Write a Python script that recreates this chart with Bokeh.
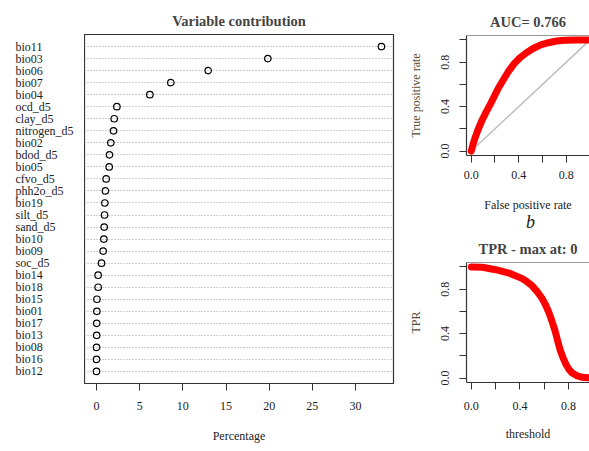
from bokeh.plotting import figure
from bokeh.models import (ColumnDataSource, Range1d, FixedTicker, Span,
                          PrintfTickFormatter)
from bokeh.layouts import row, column
from bokeh.embed import file_html
from bokeh.resources import INLINE

# ---------------- data ----------------
variables = ["bio11", "bio03", "bio06", "bio07", "bio04", "ocd_d5", "clay_d5",
             "nitrogen_d5", "bio02", "bdod_d5", "bio05", "cfvo_d5", "phh2o_d5",
             "bio19", "silt_d5", "sand_d5", "bio10", "bio09", "soc_d5", "bio14",
             "bio18", "bio15", "bio01", "bio17", "bio13", "bio08", "bio16", "bio12"]
contribution = [33.0, 19.85, 12.94, 8.61, 6.18, 2.36, 2.05, 1.97, 1.66, 1.51,
                1.47, 1.12, 1.04, 0.97, 0.93, 0.89, 0.85, 0.77, 0.58, 0.19,
                0.19, 0.05, 0.04, 0.03, 0.02, 0.01, 0.01, 0.0]
pct_ticks = [0, 5, 10, 15, 20, 25, 30]

roc_fpr = [0.0, 0.015, 0.034, 0.06, 0.09, 0.125, 0.16, 0.23, 0.315, 0.36, 0.41,
           0.465, 0.525, 0.585, 0.65, 0.72, 0.79, 0.9, 1.0]
roc_tpr = [0.0, 0.06, 0.125, 0.2, 0.275, 0.35, 0.42, 0.57, 0.72, 0.785, 0.84,
           0.885, 0.925, 0.955, 0.975, 0.99, 0.997, 1.0, 1.0]
diag_x = [0.0, 1.0]
diag_y = [0.0, 1.0]

thr = [0.0, 0.09, 0.2, 0.31, 0.42, 0.46, 0.50, 0.54, 0.58, 0.61, 0.64, 0.665,
       0.69, 0.71, 0.73, 0.755, 0.78, 0.805, 0.83, 0.865, 0.90, 0.95, 1.0]
thr_tpr = [1.0, 0.997, 0.975, 0.945, 0.895, 0.865, 0.83, 0.78, 0.72, 0.66,
           0.585, 0.505, 0.42, 0.335, 0.255, 0.18, 0.12, 0.075, 0.045, 0.022,
           0.01, 0.003, 0.0]

unit_major = [0.0, 0.4, 0.8]
unit_minor = [0.2, 0.6, 1.0]
panel_letters = ["a", "b", "c"]

SERIF = "Liberation Serif"
AXLAB_COLOR = "#5b4b2e"
FRAME = "#333333"
TXT = "#222222"


def letter_strip(text, width, height, x0, cx, baseline_from_bottom):
    """A thin borderless strip that carries a panel letter (a / b / c).
    In a column Bokeh aligns its frame with the panel above, so its
    x range starts at that panel's left border (x0)."""
    s = figure(width=width, height=height, title=None,
               x_range=Range1d(x0, width), y_range=Range1d(0, height),
               output_backend="svg", toolbar_location=None,
               x_axis_location=None, y_axis_location=None,
               min_border_left=0, min_border_right=0,
               min_border_top=0, min_border_bottom=0)
    s.grid.visible = False
    s.outline_line_color = None
    g = s.text(x=[cx], y=[baseline_from_bottom], text=[text],
               text_font_size="18px", text_font_style="italic",
               text_align="center", text_baseline="alphabetic",
               text_color=TXT)
    g.glyph.text_font = SERIF
    return s


# ---------------- panel a ----------------
n = len(variables)
ypos = [n - i for i in range(n)]
src = ColumnDataSource(dict(name=variables, value=contribution, y=ypos))
yr = Range1d(0, n + 1)

# row labels (left-aligned, as in R's dotchart)
lab = figure(width=84, height=451, x_range=Range1d(0, 84), y_range=yr,
             output_backend="svg", toolbar_location=None,
             min_border_left=0, min_border_right=0,
             min_border_top=34, min_border_bottom=68)
lab.axis.visible = False
lab.grid.visible = False
lab.outline_line_color = None
t = lab.text(x=15, y="y", text="name", source=src,
             text_font_size="12px", text_baseline="middle", text_align="left",
             text_color=TXT)
t.glyph.text_font = SERIF

p1 = figure(width=316, height=445, x_range=Range1d(-1.39, 34.4),
            y_range=yr, output_backend="svg",
            toolbar_location=None, min_border_left=0, min_border_right=7,
            min_border_top=34, min_border_bottom=62,
            title="Variable contribution")
p1.title.align = "center"
p1.title.vertical_align = "middle"
p1.title.text_font = SERIF
p1.title.text_font_size = "14.5px"
p1.title.text_font_style = "bold"
p1.outline_line_color = FRAME
p1.outline_line_width = 1.2
p1.yaxis.visible = False
p1.xgrid.visible = False
p1.ygrid.ticker = FixedTicker(ticks=ypos)
p1.ygrid.grid_line_color = "#a0a0a0"
p1.ygrid.grid_line_dash = "1 2"
p1.ygrid.grid_line_width = 1

xa = p1.xaxis[0]
xa.ticker = FixedTicker(ticks=pct_ticks)
xa.minor_tick_line_color = None
xa.major_tick_in = 0
xa.major_tick_out = 7
xa.major_tick_line_color = FRAME
xa.axis_line_color = FRAME
xa.major_label_text_font = SERIF
xa.major_label_text_font_size = "12px"
xa.major_label_text_color = TXT
xa.major_label_standoff = 11
xa.axis_label = "Percentage"
xa.axis_label_text_font = SERIF
xa.axis_label_text_font_size = "12px"
xa.axis_label_text_font_style = "normal"
xa.axis_label_text_color = TXT
xa.axis_label_standoff = 16

p1.scatter(x="value", y="y", source=src, size=6.5, fill_color=None,
           line_color="black", line_width=1.2)
strip_a = letter_strip(panel_letters[0], 316, 6, 0, 154, 0)


def style_unit_panel(p, xlabel, ylabel, x_standoff, xlab_standoff):
    p.outline_line_color = None
    p.grid.visible = False
    p.title.align = "center"
    p.title.vertical_align = "middle"
    p.title.text_font = SERIF
    p.title.text_font_size = "14.5px"
    p.title.text_font_style = "bold"
    for ax in (p.xaxis[0], p.yaxis[0]):
        ax.ticker = FixedTicker(ticks=unit_major, minor_ticks=unit_minor)
        ax.formatter = PrintfTickFormatter(format="%.1f")
        ax.major_tick_in = 0
        ax.major_tick_out = 7
        ax.minor_tick_in = 0
        ax.minor_tick_out = 7
        ax.major_tick_line_color = FRAME
        ax.minor_tick_line_color = FRAME
        ax.axis_line_color = FRAME
        ax.axis_line_width = 1.2
        ax.major_label_text_font = SERIF
        ax.major_label_text_font_size = "12px"
        ax.major_label_text_color = TXT
        ax.axis_label_text_font = SERIF
        ax.axis_label_text_font_size = "12px"
        ax.axis_label_text_font_style = "normal"
    p.xaxis[0].axis_label = xlabel
    p.xaxis[0].axis_label_text_color = TXT
    p.xaxis[0].major_label_standoff = x_standoff
    p.xaxis[0].axis_label_standoff = xlab_standoff
    p.yaxis[0].axis_label = ylabel
    p.yaxis[0].axis_label_text_color = AXLAB_COLOR
    p.yaxis[0].major_label_orientation = "vertical"
    p.yaxis[0].major_label_standoff = 10
    p.yaxis[0].axis_label_standoff = 16
    p.add_layout(Span(location=p.y_range.end, dimension="width",
                      line_color=FRAME, line_width=1.2))


# ---------------- panel b ----------------
p2 = figure(width=189, height=214, x_range=Range1d(-0.04, 0.996),
            y_range=Range1d(-0.04, 1.04), output_backend="svg",
            toolbar_location=None, min_border_left=66, min_border_right=0,
            min_border_top=35, min_border_bottom=59, title="AUC= 0.766")
style_unit_panel(p2, "False positive rate", "True positive rate", 8, 16)
p2.line(diag_x, diag_y, line_color="#bebebe", line_width=1.5)
p2.line(roc_fpr, roc_tpr, line_color="#ff0000", line_width=7,
        line_cap="round", line_join="round")
strip_b = letter_strip(panel_letters[1], 189, 16, 66, 130, 9)

# ---------------- panel c ----------------
p3 = figure(width=189, height=215, x_range=Range1d(-0.04, 0.972),
            y_range=Range1d(-0.04, 1.04), output_backend="svg",
            toolbar_location=None, min_border_left=66, min_border_right=0,
            min_border_top=32, min_border_bottom=63, title="TPR - max at: 0")
style_unit_panel(p3, "threshold", "TPR", 12, 14)
p3.line(thr, thr_tpr, line_color="#ff0000", line_width=7,
        line_cap="round", line_join="round")
strip_c = letter_strip(panel_letters[2], 189, 6, 66, 128, 2)

layout = row(lab, column(p1, strip_a), column(p2, strip_b, p3, strip_c))
open("out.html", "w").write(file_html(layout, INLINE))
